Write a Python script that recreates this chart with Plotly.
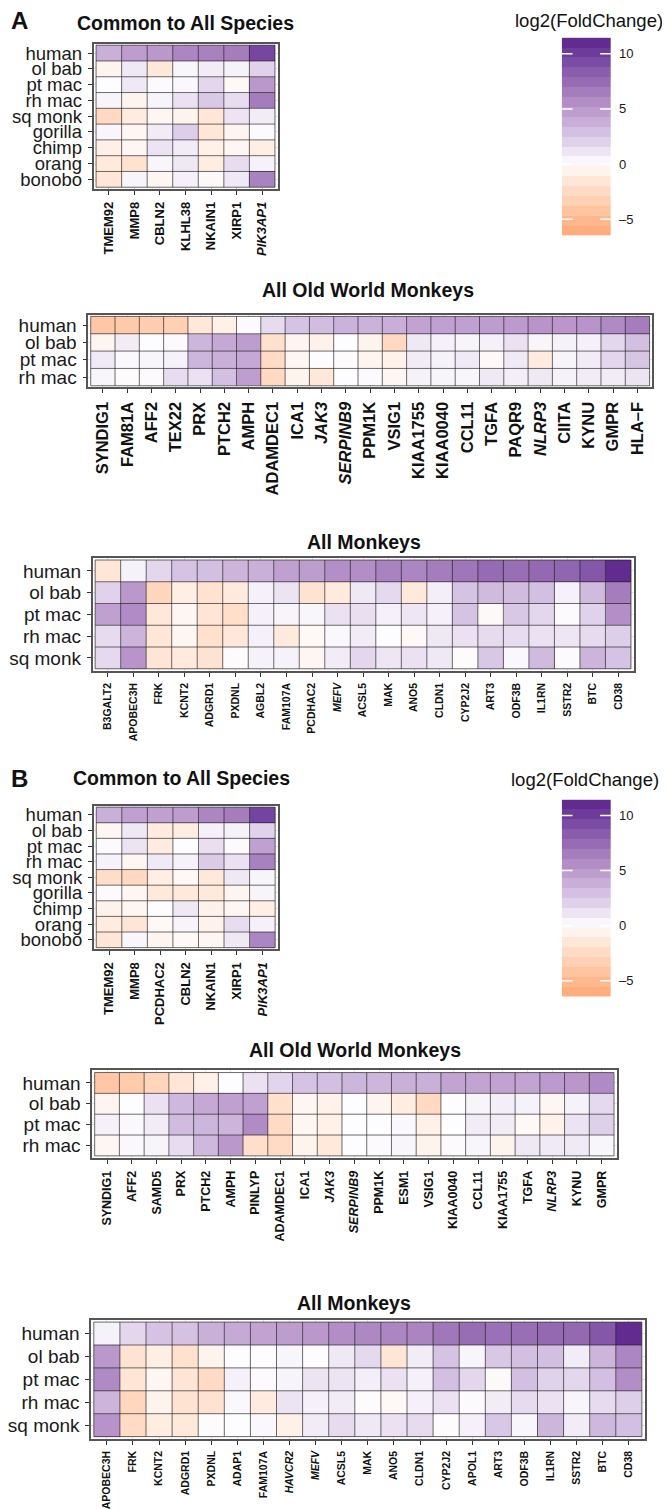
import numpy as np
import plotly.graph_objects as go

PAGE_W, PAGE_H = 670, 1509
OFF = 8  # default page body margin of the written html
W, H = PAGE_W - OFF, PAGE_H - OFF
FONT = "Liberation Sans, Arial, Helvetica, sans-serif"

# ---------------- data ----------------
rows_common = ["human", "ol bab", "pt mac", "rh mac", "sq monk", "gorilla", "chimp", "orang", "bonobo"]
rows_owm = ["human", "ol bab", "pt mac", "rh mac"]
rows_am = ["human", "ol bab", "pt mac", "rh mac", "sq monk"]

a_common_genes = ["TMEM92", "MMP8", "CBLN2", "KLHL38", "NKAIN1", "XIRP1", "<i>PIK3AP1</i>"]
a_common_vals = [
    [3.8, 4.8, 5.0, 6.0, 6.3, 6.5, 9.5],
    [-0.6, 1.0, -1.5, 0.3, 0.8, 0.5, 2.0],
    [0.0, 1.0, 0.1, 0.2, 1.8, -0.3, 5.0],
    [0.4, -0.6, 0.4, 1.3, 2.5, 1.5, 6.5],
    [-2.6, -1.2, -0.4, -0.6, -1.6, 1.2, 0.8],
    [0.3, -0.4, 0.8, 2.2, -1.6, -0.5, 0.1],
    [-0.9, -0.4, 1.2, 0.8, -0.8, -0.4, -1.0],
    [-1.3, -1.9, 0.3, 1.0, -1.1, 1.5, 0.5],
    [-1.6, 0.4, -0.4, 0.6, -0.2, 1.0, 6.2],
]

a_owm_genes = ["SYNDIG1", "FAM81A", "AFF2", "TEX22", "PRX", "PTCH2", "AMPH", "ADAMDEC1", "ICA1",
               "<i>JAK3</i>", "<i>SERPINB9</i>", "PPM1K", "VSIG1", "KIAA1755", "KIAA0040", "CCL11",
               "TGFA", "PAQR9", "<i>NLRP3</i>", "CIITA", "KYNU", "GMPR", "HLA\u2013F"]
a_owm_vals = [
    [-4.0, -3.8, -3.5, -3.3, -1.5, -0.8, 0.1, 1.6, 2.8, 3.1, 3.7, 3.7, 3.9, 4.5, 4.6, 4.6, 4.8, 4.9, 5.2, 5.1, 5.2, 5.8, 6.5],
    [-0.5, 0.8, 0.0, 0.1, 3.5, 4.2, 4.8, -2.0, -0.5, -0.7, 0.0, -0.6, -2.6, 1.0, 0.6, 0.4, 0.6, 1.3, 0.3, 0.5, 0.6, 1.8, 3.0],
    [0.9, 0.2, 0.3, 0.5, 3.5, 3.8, 4.2, -2.5, -0.4, 0.0, -0.1, -0.5, -0.7, 0.8, 0.5, 0.9, -0.3, 0.9, -1.2, 0.4, 0.8, 1.8, 2.7],
    [0.3, -0.1, 0.1, 1.5, 1.3, 3.0, 4.7, -2.6, -0.6, -1.5, 0.0, 0.1, -0.4, 0.5, 0.4, 0.3, 1.0, 0.7, 1.0, 0.5, 0.8, 0.8, 1.2],
]

a_am_genes = ["B3GALT2", "APOBEC3H", "FRK", "KCNT2", "ADGRD1", "PXDNL", "AGBL2", "FAM107A", "PCDHAC2",
              "<i>MEFV</i>", "ACSL5", "MAK", "ANO5", "CLDN1", "CYP2J2", "ART3", "ODF3B", "IL1RN", "SSTR2", "BTC", "CD38"]
a_am_vals = [
    [-1.6, 0.5, 1.8, 2.8, 3.0, 3.6, 3.8, 4.6, 4.8, 5.5, 5.6, 6.2, 6.0, 6.5, 6.9, 7.5, 7.3, 7.6, 7.8, 8.6, 11.0],
    [2.0, 5.0, -2.8, -1.0, -1.9, -1.3, 0.6, 1.2, -1.8, -1.3, 1.0, 1.7, -1.4, 0.7, 2.8, 3.3, 3.2, 3.0, 0.6, 3.3, 6.5],
    [4.6, 5.7, -1.5, -0.4, -1.7, -2.2, 0.6, 0.4, 0.3, 1.3, 1.4, 0.6, 1.1, 0.6, 2.8, -0.2, 2.6, 1.8, 0.1, 2.0, 5.5],
    [1.6, 3.6, -1.6, -0.4, -2.0, -1.5, 0.6, -1.3, -0.3, 0.2, 0.8, 0.0, -0.3, 1.0, 1.3, 1.6, 1.5, 1.3, 1.1, 1.6, 2.2],
    [1.7, 5.2, -1.7, -1.3, -1.8, -0.1, 0.5, 0.5, -0.4, 0.8, 1.8, 1.1, 1.3, 1.0, -0.1, 2.6, 0.2, 3.3, 0.1, 3.6, 2.8],
]

b_common_genes = ["TMEM92", "MMP8", "PCDHAC2", "CBLN2", "NKAIN1", "XIRP1", "<i>PIK3AP1</i>"]
b_common_vals = [
    [3.8, 4.6, 4.6, 4.8, 6.0, 6.5, 9.6],
    [-0.4, 1.0, -1.2, -1.1, 0.6, 0.5, 2.0],
    [0.1, 1.2, -1.2, 0.0, 1.4, 0.1, 4.6],
    [0.5, -0.4, 0.9, 0.5, 2.4, 1.3, 6.3],
    [-2.3, -2.6, -1.0, -0.3, -1.4, 1.0, 0.4],
    [0.1, -0.4, -1.4, -1.4, -1.4, -0.5, 0.4],
    [-0.7, -0.4, 0.0, 1.0, -0.7, -0.4, -1.0],
    [-1.2, -1.7, -0.3, 0.4, -0.7, 1.5, 0.6],
    [-1.6, 0.3, -0.5, -0.3, -0.4, 1.0, 6.0],
]

b_owm_genes = ["SYNDIG1", "AFF2", "SAMD5", "PRX", "PTCH2", "AMPH", "PINLYP", "ADAMDEC1", "ICA1", "<i>JAK3</i>",
               "<i>SERPINB9</i>", "PPM1K", "ESM1", "VSIG1", "KIAA0040", "CCL11", "KIAA1755", "TGFA", "<i>NLRP3</i>",
               "KYNU", "GMPR"]
b_owm_vals = [
    [-4.0, -3.7, -2.9, -1.6, -0.8, 0.0, 1.3, 1.9, 2.8, 3.0, 3.5, 3.5, 3.8, 3.8, 4.4, 4.4, 4.5, 4.4, 4.9, 5.1, 5.8],
    [-0.5, 0.0, 1.3, 3.4, 4.2, 4.6, 4.6, -2.0, -0.4, -0.7, 0.0, -0.5, -1.1, -2.6, 0.0, 0.4, 0.7, 0.5, -0.4, 0.5, 1.7],
    [0.6, 0.2, 0.8, 3.2, 3.5, 3.6, 5.7, -2.4, -0.4, -0.8, 0.0, 0.0, 0.2, -0.8, 0.0, 0.8, 0.8, -0.3, -0.7, 1.2, 2.1],
    [-0.4, 0.2, 0.4, 1.5, 3.4, 5.0, -2.1, -2.4, -0.6, -1.4, 0.0, 0.1, 0.3, -0.6, 0.1, 0.3, -0.6, 1.0, 0.9, 0.9, 0.3],
]

b_am_genes = ["APOBEC3H", "FRK", "KCNT2", "ADGRD1", "PXDNL", "ADAP1", "FAM107A", "<i>HAVCR2</i>", "<i>MEFV</i>",
              "ACSL5", "MAK", "ANO5", "CLDN1", "CYP2J2", "APOL1", "ART3", "ODF3B", "IL1RN", "SSTR2", "BTC", "CD38"]
b_am_vals = [
    [0.5, 1.8, 2.8, 2.9, 3.8, 4.1, 4.5, 4.8, 5.0, 5.6, 5.9, 6.0, 6.1, 6.8, 7.4, 7.2, 7.3, 7.6, 7.6, 8.6, 11.0],
    [5.0, -1.8, -1.0, -2.0, -0.6, 0.0, 0.0, 0.3, 0.0, 1.0, 1.7, -1.7, 0.8, 2.8, 0.3, 2.6, 3.0, 3.0, 0.8, 3.6, 6.0],
    [5.8, -1.7, -0.4, -1.7, -2.5, 0.6, 0.1, 0.4, 1.2, 1.2, 0.7, 1.3, 0.6, 3.0, 1.8, -0.2, 3.0, 2.0, 1.8, 3.0, 5.6],
    [3.6, -2.8, -0.6, -1.8, -1.8, 0.2, -1.2, 1.2, 0.6, 0.8, -0.1, -0.3, 0.6, 1.3, 0.1, 0.8, 1.6, 1.3, 0.3, 1.6, 2.2],
    [5.3, -2.5, -1.1, -1.4, -0.1, 0.0, 0.2, -0.8, 0.8, 1.6, 1.0, 1.3, 1.6, -0.1, 0.6, 2.6, 0.3, 3.5, 0.8, 3.4, 3.0],
]

colorbar_ticks = [-5, 0, 5, 10]
colorbar_ticklabels = ["\u20135", "0", "5", "10"]

# ---------------- colour scale ----------------
ZMIN, ZMAX = -6.45, 11.45
stop_vals = [-6.45, -5, -4, -2.5, -1, 0, 1, 2, 3.5, 5, 7, 8.5, 10, 11.45]
stop_cols = ["#FFA873", "#FFB98F", "#FFC7A5", "#FFDAC4", "#FFEEE3", "#FDFCFE", "#EFE8F5",
             "#E0D2EB", "#CDB6DC", "#BB98CC", "#9D74B8", "#8659AA", "#6E3E9C", "#5C2289"]
CS = [[(v - ZMIN) / (ZMAX - ZMIN), c] for v, c in zip(stop_vals, stop_cols)]


# page-pixel -> paper fraction (figure is placed OFF px from page top-left)
def px(x):
    return (x - OFF) / W


def py(y):
    return 1 - (y - OFF) / H


def dx(x0, x1):
    return [px(x0), px(x1)]


def dy(y0, y1):
    return [py(y1), py(y0)]


# panel specs: (genes, values, rows, box px (x0,x1,y0,y1), x tick font size, y tick font size)
panels = [
    (a_common_genes, a_common_vals, rows_common, (93.5, 277.5, 42.7, 188.3), 13, 18.5),
    (a_owm_genes, a_owm_vals, rows_owm, (88.3, 652.0, 314.5, 387.5), 16.5, 19),
    (a_am_genes, a_am_vals, rows_am, (92.6, 633.5, 558.3, 671.7), 10.5, 19),
    (b_common_genes, b_common_vals, rows_common, (93.7, 277.7, 806.7, 950.7), 13, 18.5),
    (b_owm_genes, b_owm_vals, rows_owm, (92.2, 616.5, 1072.3, 1160.0), 12.5, 19),
    (b_am_genes, b_am_vals, rows_am, (91.2, 644.5, 1322.3, 1441.7), 10.5, 19),
]

fig = go.Figure()
shapes = []
layout = {}

for k, (genes, vals, rows, box, xfs, yfs) in enumerate(panels, start=1):
    ncol, nrow = len(genes), len(rows)
    xa, ya = f"x{k}", f"y{k}"
    fig.add_trace(go.Heatmap(
        z=vals, x=list(range(ncol)), y=list(range(nrow)),
        colorscale=CS, zmin=ZMIN, zmax=ZMAX, showscale=False,
        xaxis=xa, yaxis=ya, hoverinfo="skip"))
    x0, x1, y0, y1 = box
    layout[f"xaxis{k}"] = dict(
        domain=dx(x0, x1), anchor=ya, range=[-0.6, ncol - 0.4],
        tickmode="array", tickvals=list(range(ncol)), ticktext=genes, tickangle=-90,
        tickfont=dict(family=FONT, size=xfs, color="#111111", weight="bold"),
        ticks="outside", ticklen=4, tickwidth=1, tickcolor="#333333",
        showgrid=True, gridcolor="#e3e3e3", gridwidth=1, zeroline=False,
        showline=True, mirror=True, linecolor="#555555", linewidth=1.6,
        fixedrange=True, ticklabelstandoff=2)
    layout[f"yaxis{k}"] = dict(
        domain=dy(y0, y1), anchor=xa, range=[nrow - 0.4, -0.6],
        tickmode="array", tickvals=list(range(nrow)), ticktext=rows,
        tickfont=dict(family=FONT, size=yfs, color="#1a1a1a"),
        ticks="outside", ticklen=4, tickwidth=1, tickcolor="#333333",
        showgrid=True, gridcolor="#e3e3e3", gridwidth=1, zeroline=False,
        showline=True, mirror=True, linecolor="#555555", linewidth=1.6,
        fixedrange=True, ticklabelstandoff=2)
    for i in range(ncol + 1):
        shapes.append(dict(type="line", xref=xa, yref=ya, x0=i - 0.5, x1=i - 0.5,
                           y0=-0.5, y1=nrow - 0.5, line=dict(color="rgba(25,25,25,0.8)", width=0.8)))
    for j in range(nrow + 1):
        shapes.append(dict(type="line", xref=xa, yref=ya, y0=j - 0.5, y1=j - 0.5,
                           x0=-0.5, x1=ncol - 0.5, line=dict(color="rgba(25,25,25,0.8)", width=0.8)))

# ---------------- colour bars (drawn as stepped heatmaps) ----------------
edges = np.linspace(ZMIN, ZMAX, 21)
centers = (edges[:-1] + edges[1:]) / 2
cb_boxes = [(561.7, 611.0, 36.7, 235.0), (561.7, 611.0, 800.7, 998.3)]
for m, (x0, x1, y0, y1) in enumerate(cb_boxes, start=len(panels) + 1):
    xa, ya = f"x{m}", f"y{m}"
    fig.add_trace(go.Heatmap(
        z=[[c] for c in centers], x=[0], y=list(centers),
        colorscale=CS, zmin=ZMIN, zmax=ZMAX, showscale=False,
        xaxis=xa, yaxis=ya, hoverinfo="skip"))
    layout[f"xaxis{m}"] = dict(domain=dx(x0, x1), anchor=ya, range=[-0.5, 0.5], visible=False,
                               fixedrange=True)
    layout[f"yaxis{m}"] = dict(domain=dy(y0, y1), anchor=xa, range=[ZMIN, ZMAX], side="right",
                               tickmode="array", tickvals=colorbar_ticks, ticktext=colorbar_ticklabels,
                               tickfont=dict(family=FONT, size=13, color="#1a1a1a"),
                               ticks="", showgrid=False, zeroline=False, showline=False,
                               fixedrange=True, ticklabelstandoff=7)
    for t in colorbar_ticks:
        for (a, b) in [(-0.5, -0.28), (0.28, 0.5)]:
            shapes.append(dict(type="line", xref=xa, yref=ya, x0=a, x1=b, y0=t, y1=t,
                               line=dict(color="white", width=1.5)))

# ---------------- text ----------------
def ann(text, x, y, size, bold=False, xanchor="center"):
    return dict(text=text, x=px(x), y=py(y), xref="paper", yref="paper",
                xanchor=xanchor, yanchor="middle", showarrow=False,
                font=dict(family=FONT, size=size, color="#111111", weight="bold" if bold else "normal"))


annotations = [
    ann("A", 19, 20, 24, True),
    ann("B", 19, 780, 24, True),
    ann("Common to All Species", 185, 22, 19.5, True),
    ann("All Old World Monkeys", 368, 290, 19.5, True),
    ann("All Monkeys", 364, 542, 19.5, True),
    ann("Common to All Species", 181, 779, 19.5, True),
    ann("All Old World Monkeys", 355, 1052, 19.5, True),
    ann("All Monkeys", 354, 1305, 19.5, True),
    ann("log2(FoldChange)", 589, 20, 18.5),
    ann("log2(FoldChange)", 585, 781, 18.5),
]

fig.update_layout(
    width=W, height=H, autosize=False,
    margin=dict(l=0, r=0, t=0, b=0),
    paper_bgcolor="white", plot_bgcolor="white",
    showlegend=False, shapes=shapes, annotations=annotations,
    font=dict(family=FONT),
    **layout)

fig.write_html("out.html")
